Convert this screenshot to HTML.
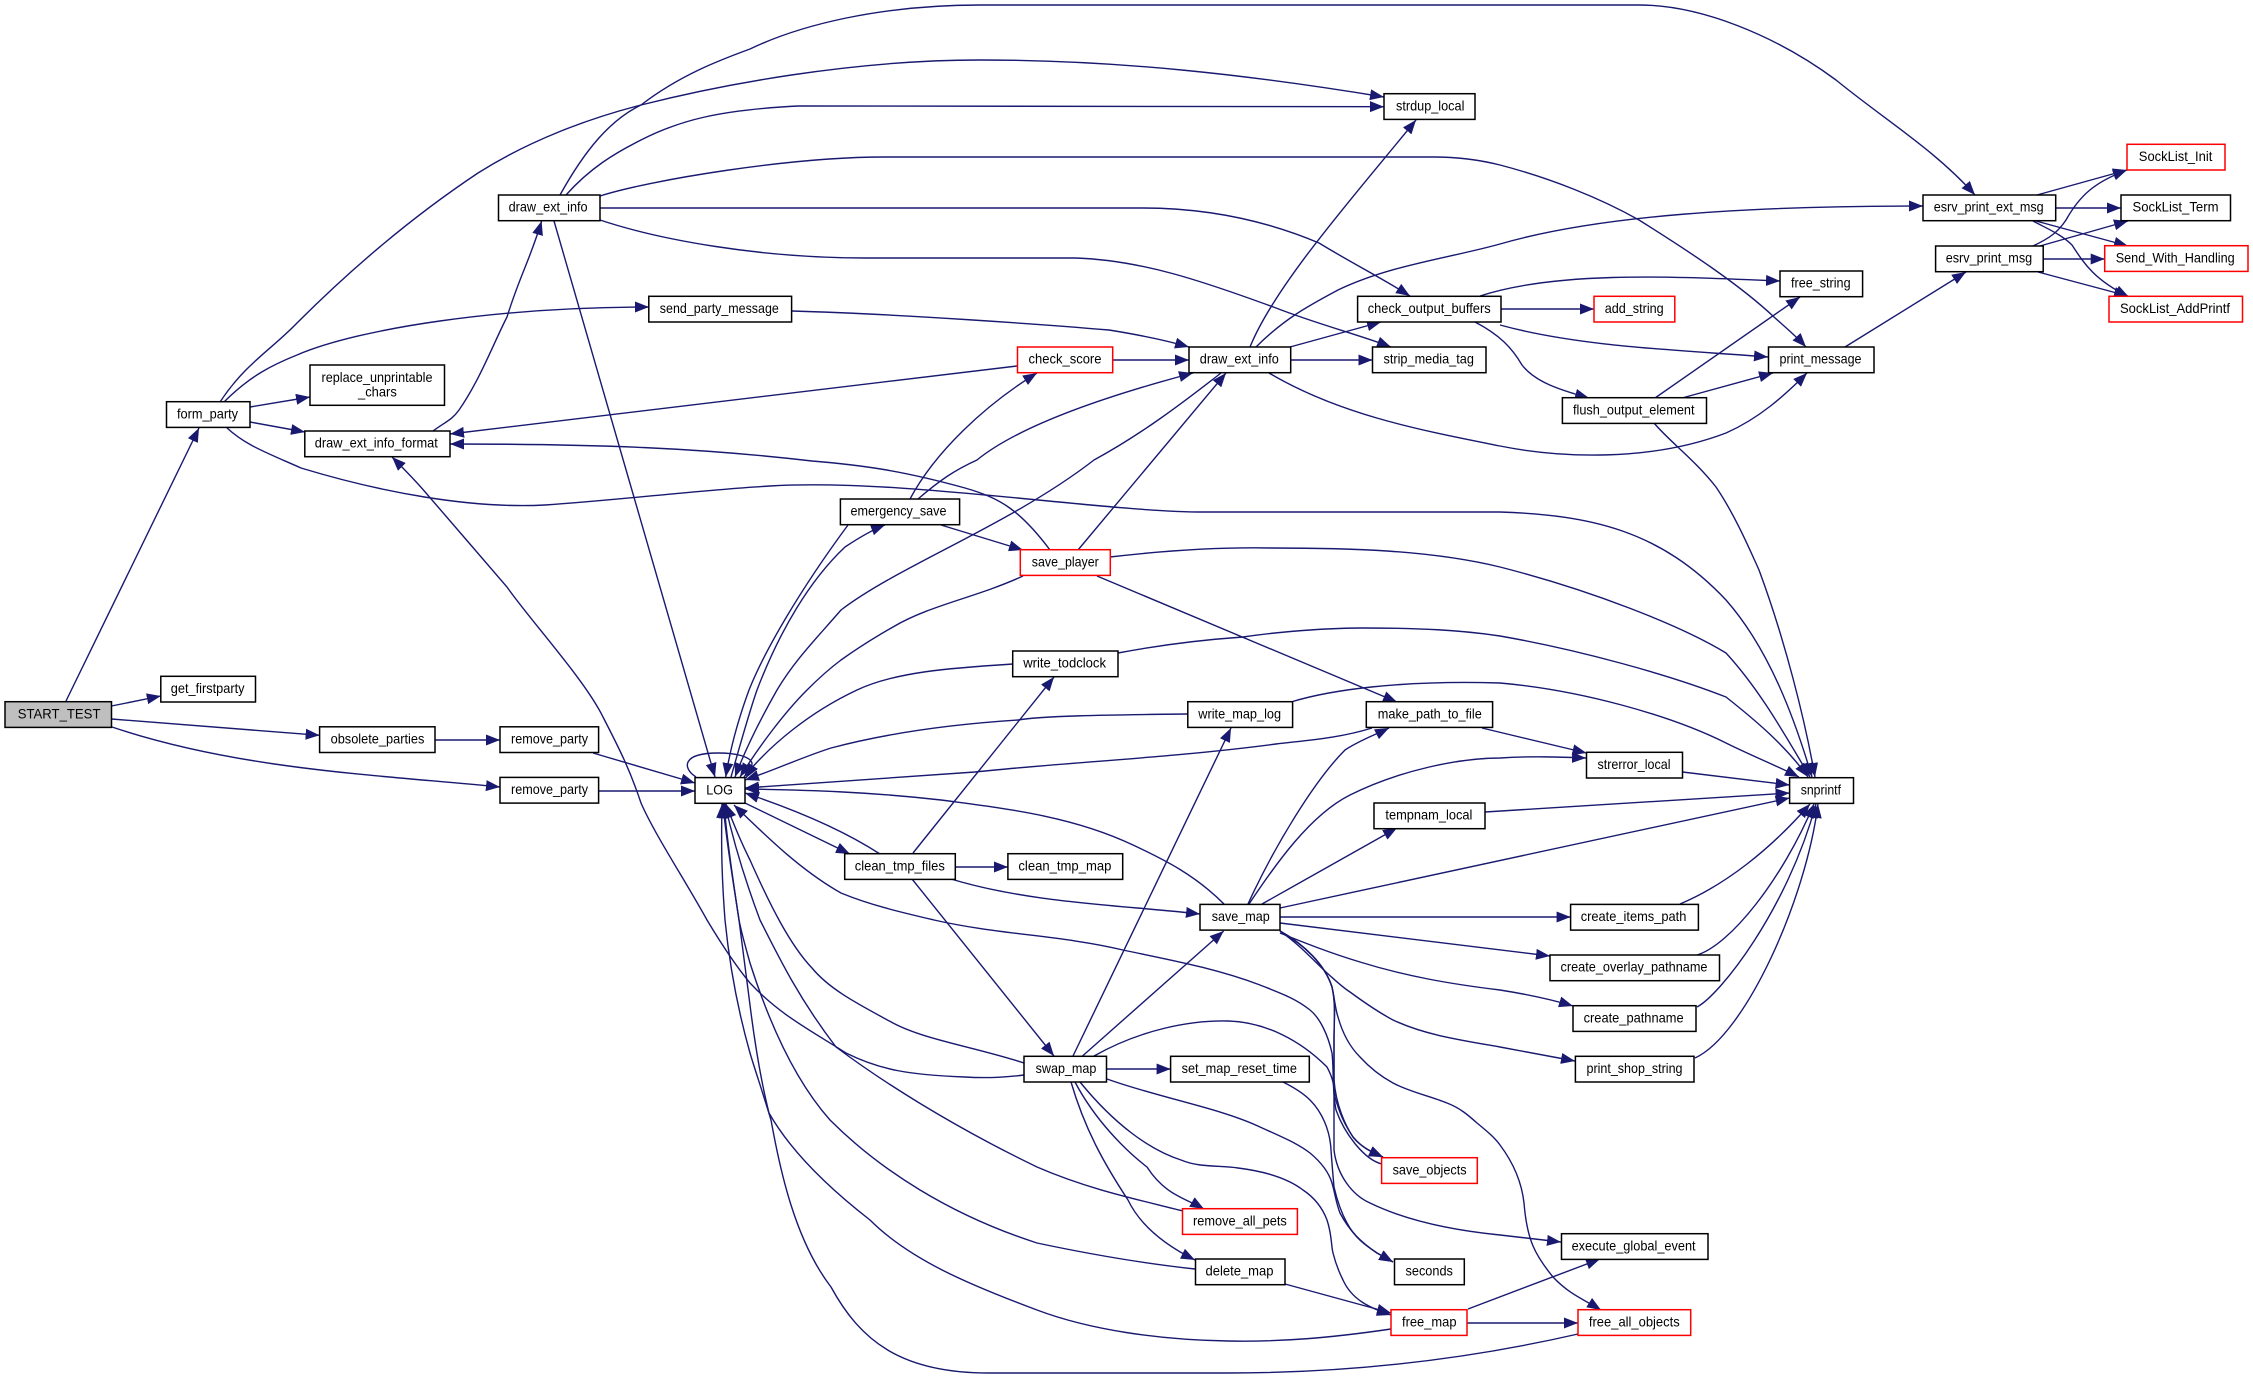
<!DOCTYPE html>
<html><head><meta charset="utf-8"><title>START_TEST call graph</title>
<style>
html,body{margin:0;padding:0;background:#fff;width:2253px;height:1379px;overflow:hidden}
svg{display:block}
text{font-family:"Liberation Sans",sans-serif;font-size:14px;fill:#000;stroke:none}
.n rect{fill:#fff;stroke:#000;stroke-width:1.5}
.n rect.r{stroke:#f00}
.n rect.g{fill:#bfbfbf}
</style></head><body>
<svg width="2253" height="1379" viewBox="0 0 2253 1379">
<defs><marker id="a" markerUnits="userSpaceOnUse" markerWidth="15" markerHeight="12" refX="14" refY="5.5" orient="auto"><polygon points="0,0 14,5.5 0,11" fill="#191970"/></marker></defs>
<g fill="none" stroke="#191970" stroke-width="1.4" marker-end="url(#a)">
<path d="M66,701 L199,428"/>
<path d="M111.5,706 L160.8,696"/>
<path d="M111.5,719 L319.6,735.3"/>
<path d="M112,727 C240,770 380,775 500,787"/>
<path d="M435,740 L500,740"/>
<path d="M593,753 L695,783"/>
<path d="M598.6,791 L695,791"/>
<path d="M696,777 C682,768 682,753 718,753 C738,753 750,757 752,763 C752,768 749,773 746,778"/>
<path d="M220,402 C245,364 271,350 297,323 C355,265 415,215 478,173 C530,140 590,118 641,105 C720,85 850,60 980,60 C1120,60 1250,75 1384,97"/>
<path d="M224,402 C250,376 272,365 297,355 C360,328 500,307 649,307"/>
<path d="M250,407 L310,397"/>
<path d="M250,422 L305,432"/>
<path d="M226,427 C245,445 265,452 301,468 C380,492 470,509 545,505 C620,500 700,490 770,486 C900,478 1100,512 1204,512 L1500,512 C1590,515 1660,530 1726,600 C1770,650 1795,720 1812,777"/>
<path d="M433,431 C445,422 452,420 459,410 C480,380 495,340 507,317 C520,275 530,260 541.6,221"/>
<path d="M566,195 C590,168 615,153 641,140 C680,120 720,110 798,106 L1384,106.7"/>
<path d="M560,195 C585,150 610,120 641,105 C680,75 720,60 750,49 C800,25 880,5 980,5 L1639,5 C1700,5 1775,35 1836,80 C1885,120 1935,150 1975,195"/>
<path d="M600,196 C650,180 790,157 884,157 L1434,157 C1460,157 1480,160 1500,165 C1550,178 1600,198 1639,220 C1690,252 1740,285 1774,317 C1785,327 1795,335 1806,347"/>
<path d="M600,208 L1142,208 C1200,208 1260,218 1319,243 C1350,262 1385,280 1410,296"/>
<path d="M600,220 C660,240 760,258 865,258 L1075,258 C1140,260 1200,280 1276,308 C1320,325 1360,335 1391,347"/>
<path d="M554,221 L715,777"/>
<path d="M792,311 C900,314 1050,325 1109,330 C1140,335 1165,340 1189,347"/>
<path d="M1112.7,360 L1189,360"/>
<path d="M1017,366 L450,434"/>
<path d="M1250,347 C1275,285 1355,195 1416,120"/>
<path d="M1256,347 C1285,318 1310,305 1338,290 C1390,265 1450,258 1500,244 C1600,215 1750,206 1923,206"/>
<path d="M1290,347 L1381,322"/>
<path d="M1290.7,360 L1372.5,360"/>
<path d="M1269,373 C1340,415 1420,430 1500,446 C1560,458 1650,462 1726,433 C1760,418 1785,395 1807,373"/>
<path d="M1480,296 C1560,270 1680,277 1780,281"/>
<path d="M1501,309 L1594,309"/>
<path d="M1500,325 C1580,347 1680,350 1768,357"/>
<path d="M1475,322 C1500,335 1512,348 1522,365 C1535,382 1560,390 1589,398"/>
<path d="M1655,398 L1800,297"/>
<path d="M1682,398 L1773,373"/>
<path d="M1654,423 C1670,442 1695,460 1716,487 C1735,515 1750,550 1759,570 C1785,640 1805,720 1815,777"/>
<path d="M1845,347 L1966,272"/>
<path d="M2037,195 L2127,170"/>
<path d="M2055.7,208 L2121,208"/>
<path d="M2036,221 L2128,246"/>
<path d="M2033,221 C2050,230 2062,235 2072,245 C2085,265 2095,280 2129,297"/>
<path d="M2033,246 C2050,238 2058,232 2066,220 C2080,195 2095,182 2127,170"/>
<path d="M2040,246 L2128,221"/>
<path d="M2043,259 L2104.7,259"/>
<path d="M2038,272 L2128,296"/>
<path d="M910,499 C935,452 985,405 1037,373"/>
<path d="M918,499 C940,480 955,470 977,460 C1020,425 1110,395 1193,373"/>
<path d="M941,525 L1023,550"/>
<path d="M848,525 C800,590 765,650 749,690 C738,720 730,750 725.7,777"/>
<path d="M731,777 C740,745 750,710 757,690 C780,630 810,580 845,547 C860,537 872,530 885,525"/>
<path d="M1221,373 C1180,405 1140,435 1094,460 C1010,525 900,565 841,610 C815,640 795,660 777,690 C760,720 745,750 735,777"/>
<path d="M1078,550 L1226,373"/>
<path d="M1050,550 C1020,510 1000,498 965,488 C900,470 860,465 812,461 C700,448 600,444 450,444"/>
<path d="M1023,576 C975,598 930,605 893,627 C870,640 855,650 841,660 C825,672 815,682 807,690 C785,712 760,745 740,777"/>
<path d="M1110,557 C1170,550 1220,547 1271,548 C1350,548 1430,550 1500,567 C1590,590 1680,625 1726,653 C1760,690 1785,735 1810,777"/>
<path d="M1097,576 L1397,702"/>
<path d="M1013,664 C950,668 895,672 857,690 C810,712 770,745 744,777"/>
<path d="M1118,653 C1160,645 1200,640 1243,637 C1290,630 1340,628 1362,628 C1420,628 1460,630 1500,636 C1580,650 1670,675 1726,697 C1755,720 1785,745 1808,777"/>
<path d="M1188,714 C1100,715 1040,716 1018,720 C940,725 880,735 831,748 C800,758 775,770 745,780"/>
<path d="M1291,702 C1330,690 1400,680 1500,683 C1580,690 1670,715 1726,743 C1750,755 1775,765 1799,777"/>
<path d="M1372,728 C1340,738 1310,740 1276,744 C1170,758 1070,762 975,772 L745,788"/>
<path d="M1482,728 L1586.5,753"/>
<path d="M1682.5,772 L1789.6,785"/>
<path d="M1485,812 L1789.6,793"/>
<path d="M1262,904 L1397,828"/>
<path d="M1248,904 C1275,845 1315,780 1345,750 C1360,740 1375,735 1389,728"/>
<path d="M1249,904 C1275,865 1310,815 1350,795 C1400,770 1460,758 1500,758 C1530,756 1560,757 1586,758"/>
<path d="M1280,908 L1789.6,798"/>
<path d="M1280,917 L1570.6,917"/>
<path d="M1280,923 L1550,956"/>
<path d="M1280,933 C1305,943 1330,953 1360,962 C1405,976 1450,984 1500,990 C1525,994 1550,999 1573,1006"/>
<path d="M1280,931 C1300,945 1313,960 1327,973 C1335,980 1342,987 1350,992 C1365,1003 1378,1012 1393,1020 C1425,1035 1460,1040 1500,1047 L1575,1061"/>
<path d="M1280,931 C1305,945 1325,965 1332,987 C1336,1005 1334,1020 1334,1040 L1334,1080 C1336,1105 1345,1125 1353,1137 C1362,1148 1372,1152 1383,1157"/>
<path d="M1280,931 C1305,945 1325,965 1332,987 C1335,1000 1335,1008 1338,1017 C1343,1035 1350,1047 1360,1057 C1370,1068 1382,1077 1393,1083 C1410,1092 1430,1096 1447,1103 C1460,1108 1468,1115 1477,1123 C1488,1132 1495,1138 1500,1145 C1515,1165 1522,1185 1524,1203 C1527,1240 1535,1255 1553,1277 C1570,1295 1585,1300 1601,1310"/>
<path d="M1280,931 C1305,945 1325,965 1332,987 C1336,1005 1334,1020 1334,1040 L1334,1150 C1337,1175 1352,1195 1370,1203 C1405,1220 1450,1230 1500,1235 L1561,1242"/>
<path d="M1224,904 C1195,875 1165,860 1133,845 C1070,815 1000,808 941,800 C870,792 810,790 745,789"/>
<path d="M745,803 L850,854"/>
<path d="M880,854 C840,828 790,808 745,793"/>
<path d="M913,853 L1054,677"/>
<path d="M955.3,867 L1007.9,867"/>
<path d="M951,879 C1030,903 1120,905 1200,914"/>
<path d="M912,879 L1054,1056"/>
<path d="M1073,1056 L1231,728"/>
<path d="M1082.5,1056 L1223.7,931"/>
<path d="M1106.5,1069 L1170.6,1069"/>
<path d="M1094,1056 C1140,1030 1190,1020 1228,1021 C1265,1022 1300,1040 1327,1067 C1333,1078 1334,1085 1335,1097 C1340,1115 1345,1125 1353,1137 C1362,1148 1372,1152 1383,1157"/>
<path d="M1382,1164 C1365,1160 1345,1135 1336,1110 C1332,1090 1334,1070 1332,1053 C1328,1035 1320,1018 1310,1010 C1295,998 1280,993 1260,985 C1215,968 1170,960 1123,950 C1060,935 1000,935 934,920 C900,912 870,905 841,893 C800,870 765,835 734,805"/>
<path d="M1024,1063 C975,1047 925,1040 893,1023 C860,1005 830,990 812,968 C790,945 770,905 750,860 C740,840 732,820 726,804"/>
<path d="M1024,1075 C1000,1078 980,1078 965,1077 C910,1075 880,1070 846,1053 C810,1030 780,1015 750,983 C735,965 722,945 707,920 C685,880 655,835 641,803 C630,770 620,750 603,717 C585,680 530,620 507,587 C478,553 455,527 426,493 C415,480 403,468 392,457"/>
<path d="M1183,1211 C1140,1200 1090,1190 1037,1167 C950,1125 880,1080 836,1047 C800,1000 780,960 760,920 C745,880 733,840 725,804"/>
<path d="M1075,1082 C1095,1120 1125,1150 1147,1167 C1165,1195 1185,1198 1204,1209"/>
<path d="M1071,1082 C1085,1130 1105,1165 1128,1200 C1140,1225 1165,1245 1195,1260"/>
<path d="M1080,1082 C1115,1125 1150,1150 1181,1160 C1200,1168 1220,1165 1238,1168 C1270,1172 1290,1180 1303,1190 C1318,1200 1324,1212 1327,1220 C1332,1235 1331,1245 1333,1253 C1336,1265 1339,1272 1343,1280 C1352,1300 1370,1308 1391,1315"/>
<path d="M1107,1079 C1160,1098 1220,1108 1260,1127 C1280,1136 1297,1143 1310,1153 C1322,1163 1329,1173 1332,1183 C1335,1193 1336,1203 1340,1213 C1350,1232 1362,1243 1377,1253 L1393,1262"/>
<path d="M1283,1082 C1295,1088 1303,1093 1310,1100 C1322,1112 1330,1130 1331,1150 C1332,1165 1333,1175 1334,1187 C1337,1200 1341,1212 1347,1223 C1355,1238 1365,1245 1377,1253 L1393,1262"/>
<path d="M1285,1284 L1391,1313"/>
<path d="M1195,1269 C1130,1262 1070,1250 1037,1243 C950,1215 880,1170 830,1120 C790,1075 765,1010 750,963 C745,945 742,935 739,920 C733,880 727,840 724,804"/>
<path d="M1468,1309 L1600,1259"/>
<path d="M1467,1323 L1578,1323"/>
<path d="M1391,1329 C1330,1338 1280,1342 1228,1341 C1160,1340 1090,1330 1037,1310 C970,1285 910,1260 870,1220 C825,1185 790,1150 769,1113 C762,1085 755,1045 750,1005 C746,975 742,945 739,920 C733,880 726,840 723,804"/>
<path d="M1578,1334 C1530,1345 1400,1373 1228,1373 L989,1373 C900,1373 860,1340 831,1287 C795,1240 780,1170 771,1120 C762,1090 755,1070 750,1053 C735,1000 728,950 725,920 C722,880 721,850 722,804"/>
<path d="M1680,904 C1725,885 1770,850 1810,804"/>
<path d="M1697,955 C1730,945 1782,880 1814,804"/>
<path d="M1697,1007 C1720,995 1787,910 1816,804"/>
<path d="M1695,1058 C1745,1035 1806,900 1818,804"/>
</g>
<g class="n">
<rect class="g" x="5" y="701.7" width="106.5" height="25.7"/><text x="17.7" y="718.4" textLength="82.8" lengthAdjust="spacingAndGlyphs">START_TEST</text>
<rect x="160.8" y="676.3" width="94.7" height="25.7"/><text x="170.8" y="693" textLength="73.7" lengthAdjust="spacingAndGlyphs">get_firstparty</text>
<rect x="319.6" y="726.8" width="115.4" height="25.7"/><text x="330.6" y="743.5" textLength="93.8" lengthAdjust="spacingAndGlyphs">obsolete_parties</text>
<rect x="500" y="726.8" width="98.6" height="25.7"/><text x="511" y="743.5" textLength="77" lengthAdjust="spacingAndGlyphs">remove_party</text>
<rect x="500" y="777.4" width="98.6" height="25.7"/><text x="511" y="794.1" textLength="77" lengthAdjust="spacingAndGlyphs">remove_party</text>
<rect x="695" y="777.6" width="50" height="25.7"/><text x="706.2" y="794.3" textLength="26.8" lengthAdjust="spacingAndGlyphs">LOG</text>
<rect x="166.5" y="401.7" width="83.5" height="25.7"/><text x="177" y="418.4" textLength="61" lengthAdjust="spacingAndGlyphs">form_party</text>
<rect x="498.5" y="195" width="101.5" height="25.7"/><text x="508.6" y="211.7" textLength="79" lengthAdjust="spacingAndGlyphs">draw_ext_info</text>
<rect x="648.8" y="296.3" width="142.8" height="25.7"/><text x="659.8" y="313" textLength="119" lengthAdjust="spacingAndGlyphs">send_party_message</text>
<rect x="310" y="365" width="134.5" height="40.3"/><text x="321.5" y="382" textLength="111" lengthAdjust="spacingAndGlyphs">replace_unprintable</text><text x="358" y="396.7" textLength="38.8" lengthAdjust="spacingAndGlyphs">_chars</text>
<rect x="304.8" y="431" width="145.2" height="25.7"/><text x="314.8" y="447.7" textLength="123" lengthAdjust="spacingAndGlyphs">draw_ext_info_format</text>
<rect x="1384" y="93.7" width="91" height="25.7"/><text x="1396" y="110.4" textLength="68.4" lengthAdjust="spacingAndGlyphs">strdup_local</text>
<rect x="1357.6" y="296.3" width="143.4" height="25.7"/><text x="1367.7" y="313" textLength="123" lengthAdjust="spacingAndGlyphs">check_output_buffers</text>
<rect class="r" x="1017.5" y="347" width="95.2" height="25.7"/><text x="1028.5" y="363.7" textLength="73" lengthAdjust="spacingAndGlyphs">check_score</text>
<rect x="1189" y="347" width="101.7" height="25.7"/><text x="1199.8" y="363.7" textLength="79" lengthAdjust="spacingAndGlyphs">draw_ext_info</text>
<rect x="1372.5" y="347" width="113.5" height="25.7"/><text x="1383.5" y="363.7" textLength="90.4" lengthAdjust="spacingAndGlyphs">strip_media_tag</text>
<rect x="1923" y="195" width="132.7" height="25.7"/><text x="1933.7" y="211.7" textLength="110" lengthAdjust="spacingAndGlyphs">esrv_print_ext_msg</text>
<rect class="r" x="2127" y="144.3" width="98" height="25.7"/><text x="2138.8" y="161" textLength="73.5" lengthAdjust="spacingAndGlyphs">SockList_Init</text>
<rect x="2121" y="195" width="109.5" height="25.7"/><text x="2132.5" y="211.7" textLength="86" lengthAdjust="spacingAndGlyphs">SockList_Term</text>
<rect class="r" x="2104.7" y="245.7" width="143.3" height="25.7"/><text x="2115.7" y="262.4" textLength="119" lengthAdjust="spacingAndGlyphs">Send_With_Handling</text>
<rect class="r" x="2109" y="296.3" width="133.5" height="25.7"/><text x="2120" y="313" textLength="110" lengthAdjust="spacingAndGlyphs">SockList_AddPrintf</text>
<rect x="1935.6" y="246" width="107.6" height="25.7"/><text x="1945.7" y="262.7" textLength="86.5" lengthAdjust="spacingAndGlyphs">esrv_print_msg</text>
<rect x="1780" y="271" width="82.6" height="25.7"/><text x="1791" y="287.7" textLength="59.6" lengthAdjust="spacingAndGlyphs">free_string</text>
<rect class="r" x="1594" y="296.3" width="80.8" height="25.7"/><text x="1604.7" y="313" textLength="59" lengthAdjust="spacingAndGlyphs">add_string</text>
<rect x="1768.5" y="347" width="105.5" height="25.7"/><text x="1779.5" y="363.7" textLength="82" lengthAdjust="spacingAndGlyphs">print_message</text>
<rect x="1562.4" y="397.7" width="144.1" height="25.7"/><text x="1573" y="414.4" textLength="121.5" lengthAdjust="spacingAndGlyphs">flush_output_element</text>
<rect x="840.4" y="499" width="119.2" height="25.7"/><text x="850.5" y="515.7" textLength="96" lengthAdjust="spacingAndGlyphs">emergency_save</text>
<rect class="r" x="1020.3" y="549.7" width="90" height="25.7"/><text x="1031.8" y="566.4" textLength="67" lengthAdjust="spacingAndGlyphs">save_player</text>
<rect x="1012.7" y="651" width="105.3" height="25.7"/><text x="1023.2" y="667.7" textLength="82.8" lengthAdjust="spacingAndGlyphs">write_todclock</text>
<rect x="1187.8" y="701.7" width="104.8" height="25.7"/><text x="1198.3" y="718.4" textLength="82.8" lengthAdjust="spacingAndGlyphs">write_map_log</text>
<rect x="1366.3" y="701.7" width="126.3" height="25.7"/><text x="1377.8" y="718.4" textLength="104" lengthAdjust="spacingAndGlyphs">make_path_to_file</text>
<rect x="1374" y="803" width="111" height="25.7"/><text x="1385.4" y="819.7" textLength="87" lengthAdjust="spacingAndGlyphs">tempnam_local</text>
<rect x="844.7" y="853.7" width="110.6" height="25.7"/><text x="854.8" y="870.4" textLength="90" lengthAdjust="spacingAndGlyphs">clean_tmp_files</text>
<rect x="1007.9" y="853.7" width="114.8" height="25.7"/><text x="1018.4" y="870.4" textLength="93" lengthAdjust="spacingAndGlyphs">clean_tmp_map</text>
<rect x="1200" y="904.4" width="80" height="25.7"/><text x="1211.7" y="921.1" textLength="58" lengthAdjust="spacingAndGlyphs">save_map</text>
<rect x="1586.5" y="752.3" width="96" height="25.7"/><text x="1597.5" y="769" textLength="73" lengthAdjust="spacingAndGlyphs">strerror_local</text>
<rect x="1789.6" y="777.7" width="63.9" height="25.7"/><text x="1800.7" y="794.4" textLength="40.3" lengthAdjust="spacingAndGlyphs">snprintf</text>
<rect x="1570.6" y="904.4" width="127.8" height="25.7"/><text x="1580.7" y="921.1" textLength="105.7" lengthAdjust="spacingAndGlyphs">create_items_path</text>
<rect x="1550" y="955" width="169.5" height="25.7"/><text x="1560.5" y="971.7" textLength="147" lengthAdjust="spacingAndGlyphs">create_overlay_pathname</text>
<rect x="1573" y="1005.7" width="123" height="25.7"/><text x="1583.6" y="1022.4" textLength="100" lengthAdjust="spacingAndGlyphs">create_pathname</text>
<rect x="1575.4" y="1056.3" width="118.6" height="25.7"/><text x="1586.5" y="1073" textLength="96" lengthAdjust="spacingAndGlyphs">print_shop_string</text>
<rect x="1561.5" y="1233.7" width="146.5" height="25.7"/><text x="1571.6" y="1250.4" textLength="124" lengthAdjust="spacingAndGlyphs">execute_global_event</text>
<rect class="r" x="1578" y="1309.7" width="112.7" height="25.7"/><text x="1588.9" y="1326.4" textLength="90.8" lengthAdjust="spacingAndGlyphs">free_all_objects</text>
<rect x="1024" y="1056.3" width="82.5" height="25.7"/><text x="1035.6" y="1073" textLength="60.8" lengthAdjust="spacingAndGlyphs">swap_map</text>
<rect x="1170.6" y="1056.3" width="138.7" height="25.7"/><text x="1181.6" y="1073" textLength="115.3" lengthAdjust="spacingAndGlyphs">set_map_reset_time</text>
<rect class="r" x="1182.5" y="1208.7" width="114.9" height="25.7"/><text x="1193" y="1225.4" textLength="93.8" lengthAdjust="spacingAndGlyphs">remove_all_pets</text>
<rect class="r" x="1381.6" y="1157.7" width="95.7" height="25.7"/><text x="1392.6" y="1174.4" textLength="74" lengthAdjust="spacingAndGlyphs">save_objects</text>
<rect x="1195.5" y="1259" width="89.5" height="25.7"/><text x="1205.5" y="1275.7" textLength="68" lengthAdjust="spacingAndGlyphs">delete_map</text>
<rect x="1394.5" y="1259" width="69.8" height="25.7"/><text x="1405.5" y="1275.7" textLength="47.4" lengthAdjust="spacingAndGlyphs">seconds</text>
<rect class="r" x="1391" y="1309.7" width="76" height="25.7"/><text x="1402" y="1326.4" textLength="54.5" lengthAdjust="spacingAndGlyphs">free_map</text>
</g>
</svg>
</body></html>
